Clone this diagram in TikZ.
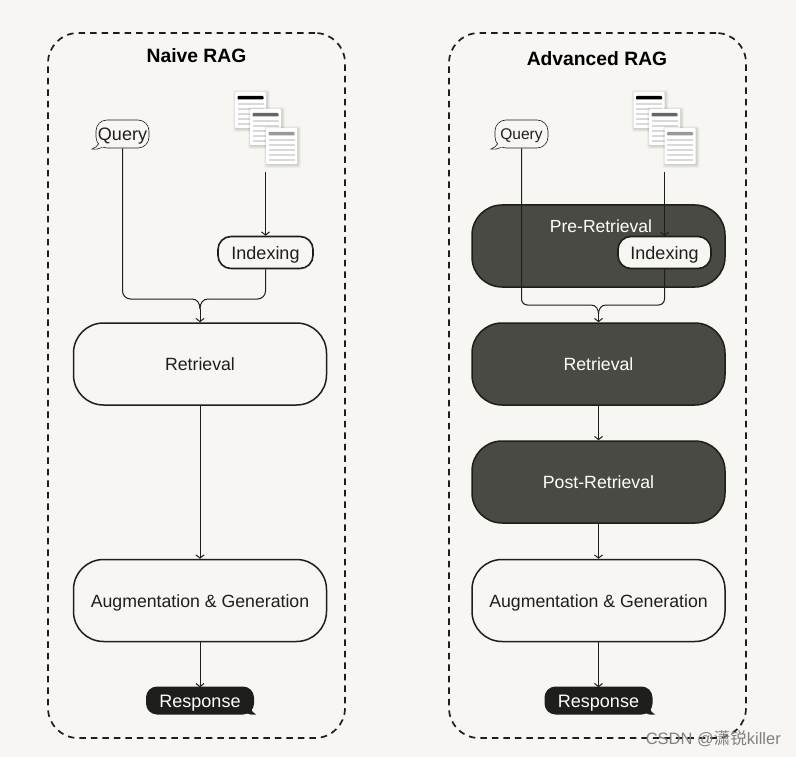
\documentclass[tikz,border=0pt]{standalone}
\usepackage{fontspec}
\setmainfont{Liberation Sans}
\newfontfamily\cjkwm{Noto Sans CJK SC}
\usetikzlibrary{arrows.meta}
\definecolor{bgc}{HTML}{F7F6F2}
\definecolor{darkbox}{HTML}{4A4A44}
\definecolor{inkc}{HTML}{1E1E1A}
\tikzset{
  panel/.style={draw=inkc,line width=1.7pt,dash pattern=on 6.5pt off 5pt,rounded corners=30pt},
  titletext/.style={font=\fontsize{19.3}{22}\selectfont\bfseries,text=black,inner sep=0pt},
  capline/.style={text height=13pt,text depth=0pt},
  lightbox/.style={draw=inkc,line width=1.5pt,fill=bgc,rounded corners=30pt,minimum width=253pt,minimum height=82pt,inner sep=0pt,font=\fontsize{17.7}{22}\selectfont,text=inkc,capline},
  darkstage/.style={lightbox,fill=darkbox,text=white,draw=inkc},
  indexbox/.style={draw=inkc,line width=1.6pt,fill=bgc,rounded corners=13pt,minimum height=32pt,inner sep=0pt,font=\fontsize{18}{22}\selectfont,text=inkc,capline},
  bubble/.style={draw=inkc,line width=.6pt,fill=bgc,rounded corners=11pt,minimum width=53pt,minimum height=28pt,inner sep=0pt,text=inkc,capline},
  respbox/.style={fill=inkc,rounded corners=11pt,minimum width=108pt,minimum height=28pt,inner sep=0pt,font=\fontsize{18}{22}\selectfont,text=white,capline},
  sheet/.style={fill=white,rounded corners=1pt,minimum width=31pt,minimum height=36pt,inner sep=0pt},
  conn/.style={draw=inkc,line width=1pt},
  arrowed/.style={conn,-{Straight Barb[length=3.2pt,width=8pt,line width=1pt]}},
  wm/.style={font=\fontsize{16.5}{18}\selectfont,text=black!50,inner sep=0pt}
}
\newcommand{\docsheet}[4]{%
  \foreach \gr/\op in {3/.03,2.2/.035,1.4/.04,.7/.05}{%
    \fill[black,opacity=\op,rounded corners=2pt] (#2-15.5-\gr+1,#3-18-\gr+1) rectangle (#2+15.5+\gr+1,#3+18+\gr+1);}
  \node[sheet] (#1) at (#2,#3) {};
  \foreach \yy in {-6,-1,4,9,14}{\fill[black!15] (#2-13,#3+\yy-.6) rectangle (#2+13,#3+\yy+.6);}
  \fill[#4,rounded corners=.8pt] (#2-13,#3-14) rectangle (#2+13,#3-10.5);
}
\begin{document}
\begin{tikzpicture}[x=1pt,y=-1pt]
\useasboundingbox (0,0) rectangle (796,757);
\fill[bgc] (0,0) rectangle (796,757);
% panels
\node[panel,minimum width=297pt,minimum height=705pt,inner sep=0pt] (lpanel) at (196.5,385.5) {};
\node[panel,minimum width=297pt,minimum height=705pt,inner sep=0pt] (rpanel) at (597.5,385.5) {};
\node[titletext] (ltitle) at (196.5,56) {Naive RAG};
\node[titletext] (rtitle) at (597,59) {Advanced RAG};
% left docs
\docsheet{ldoca}{250.5}{110}{black}
\docsheet{ldocb}{265.5}{127}{black!60}
\docsheet{ldocc}{281.5}{146}{black!40}
% right docs
\docsheet{rdoca}{649}{110}{black}
\docsheet{rdocb}{664.5}{127}{black!60}
\docsheet{rdocc}{680}{146}{black!40}
% left panel nodes
\draw[draw=inkc,line width=.6pt,fill=bgc] (99,143) .. controls (98,146) and (95,148) .. (92,149) .. controls (96,149.5) and (99,149) .. (102,147.5);
\node[bubble,font=\fontsize{18}{22}\selectfont] (lq) at (122.5,134) {Query};
\fill[bgc] (98.5,142) rectangle (103,147);
\node[indexbox,minimum width=95pt] (lidx) at (265.5,252.5) {Indexing};
\node[lightbox] (lret) at (200,364) {Retrieval};
\node[lightbox] (laug) at (200,600.5) {Augmentation \& Generation};
\fill[inkc] (251,708) .. controls (251.5,711) and (253,713) .. (256,714.5) .. controls (252,715) and (249,714.5) .. (246,713) -- cycle;
\node[respbox] (lresp) at (200,700.5) {Response};
% right panel nodes
\node[darkstage] (rpre) at (598.5,246) {};
\node[text=white,font=\fontsize{17.5}{22}\selectfont,inner sep=0pt,capline] (rpretxt) at (601,226.5) {Pre-Retrieval};
\draw[draw=inkc,line width=.6pt,fill=bgc] (498,143) .. controls (497,146) and (494,148) .. (491,149) .. controls (495,149.5) and (498,149) .. (501,147.5);
\node[bubble,font=\fontsize{15.5}{20}\selectfont,text height=11.5pt] (rq) at (521.5,134) {Query};
\fill[bgc] (497.5,142) rectangle (502,147);
\node[darkstage] (rret) at (598.5,364) {Retrieval};
\node[darkstage] (rpost) at (598.5,482) {Post-Retrieval};
\node[lightbox] (raug) at (598.5,600.5) {Augmentation \& Generation};
\fill[inkc] (650,708) .. controls (650.5,711) and (652,713) .. (655,714.5) .. controls (651,715) and (648,714.5) .. (645,713) -- cycle;
\node[respbox] (rresp) at (598.5,700.5) {Response};
% left connectors
\coordinate (ldocend) at (265.5,172);
\coordinate (lml) at (192,299);
\coordinate (lmr) at (208,299);
\coordinate (lmc) at (200,309);
\draw[arrowed] (ldocend) -- (lidx.north);
\draw[conn,rounded corners=8pt] (lq.south) |- (lml);
\draw[conn,rounded corners=8pt] (lidx.south) |- (lmr);
\draw[conn] (lml) .. controls (197,299) and (200,303) .. (lmc);
\draw[conn] (lmr) .. controls (203,299) and (200,303) .. (lmc);
\draw[arrowed] (lmc) -- (lret.north);
\draw[arrowed] (lret.south) -- (laug.north);
\draw[arrowed] (laug.south) -- ([yshift=-1pt]lresp.north);
% right connectors
\coordinate (rdocend) at (664.5,172);
\coordinate (rml) at (591,305);
\coordinate (rmr) at (606,305);
\coordinate (rmc) at (598.5,314);
\coordinate (ridxn) at (664.5,236);
\coordinate (ridxs) at (664.5,269);
\draw[arrowed] (rdocend) -- (ridxn);
\draw[conn,rounded corners=6pt] (rq.south) |- (rml);
\draw[conn,rounded corners=6pt] (ridxs) |- (rmr);
\draw[conn] (rml) .. controls (596,305) and (598.5,309) .. (rmc);
\draw[conn] (rmr) .. controls (601,305) and (598.5,309) .. (rmc);
\draw[arrowed] (rmc) -- (rret.north);
\draw[arrowed] (rret.south) -- (rpost.north);
\draw[arrowed] (rpost.south) -- (raug.north);
\draw[arrowed] (raug.south) -- ([yshift=-1pt]rresp.north);
\node[indexbox,minimum width=93pt] (ridx) at (664.5,252.5) {Indexing};
% watermark
\node[wm,anchor=east] (wmark) at (781,739) {CSDN @{\cjkwm 潇锐}killer};
\end{tikzpicture}
\end{document}
